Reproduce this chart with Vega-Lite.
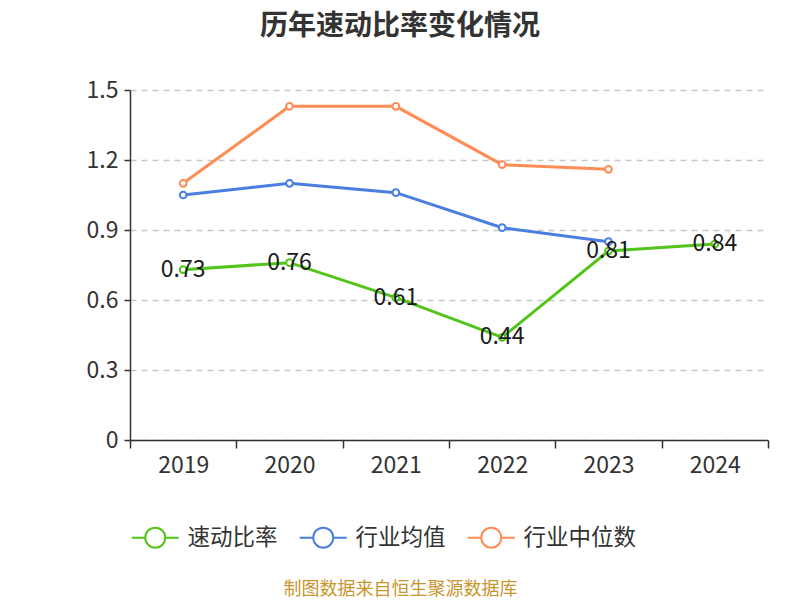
{
  "$schema": "https://vega.github.io/schema/vega-lite/v6.json",
  "width": 638,
  "height": 350,
  "autosize": {"type": "none"},
  "padding": {"left": 130, "top": 90, "right": 32, "bottom": 160},
  "background": "white",
  "config": {
    "font": "Noto Sans CJK SC",
    "view": {"stroke": null}
  },
  "title": {
    "text": "历年速动比率变化情况",
    "fontSize": 28,
    "fontWeight": "bold",
    "color": "#333333",
    "anchor": "middle",
    "frame": "group",
    "dx": -49,
    "offset": 38
  },
  "data": {
    "values": [
      {"year": 2019, "series": "速动比率", "value": 0.73},
      {"year": 2020, "series": "速动比率", "value": 0.76},
      {"year": 2021, "series": "速动比率", "value": 0.61},
      {"year": 2022, "series": "速动比率", "value": 0.44},
      {"year": 2023, "series": "速动比率", "value": 0.81},
      {"year": 2024, "series": "速动比率", "value": 0.84},
      {"year": 2019, "series": "行业均值", "value": 1.05},
      {"year": 2020, "series": "行业均值", "value": 1.10},
      {"year": 2021, "series": "行业均值", "value": 1.06},
      {"year": 2022, "series": "行业均值", "value": 0.91},
      {"year": 2023, "series": "行业均值", "value": 0.85},
      {"year": 2019, "series": "行业中位数", "value": 1.10},
      {"year": 2020, "series": "行业中位数", "value": 1.43},
      {"year": 2021, "series": "行业中位数", "value": 1.43},
      {"year": 2022, "series": "行业中位数", "value": 1.18},
      {"year": 2023, "series": "行业中位数", "value": 1.16}
    ]
  },
  "resolve": {"axis": {"x": "independent"}},
  "layer": [
    {
      "mark": {"type": "line", "strokeWidth": 3, "point": {"filled": false, "fill": "white", "size": 45, "strokeWidth": 2}},
      "encoding": {
        "x": {
          "field": "year",
          "type": "quantitative",
          "scale": {"domain": [2018.5, 2024.5], "nice": false, "zero": false},
          "axis": {
            "orient": "bottom",
            "values": [2018.5, 2019.5, 2020.5, 2021.5, 2022.5, 2023.5, 2024.5],
            "labels": false,
            "grid": false,
            "title": null,
            "tickSize": 8,
            "tickColor": "#333333",
            "tickWidth": 1.5,
            "domainColor": "#333333",
            "domainWidth": 1.5
          }
        },
        "y": {
          "field": "value",
          "type": "quantitative",
          "scale": {"domain": [0, 1.5], "nice": false},
          "axis": {
            "values": [0, 0.3, 0.6, 0.9, 1.2, 1.5],
            "format": ".1~f",
            "title": null,
            "labelFontSize": 23,
            "labelColor": "#333333",
            "labelPadding": 6,
            "tickSize": 6,
            "tickColor": "#333333",
            "tickWidth": 1.5,
            "domainColor": "#333333",
            "domainWidth": 1.5,
            "gridColor": "#c8c8c8",
            "gridDash": [6, 5],
            "gridWidth": 1.5
          }
        },
        "color": {
          "field": "series",
          "type": "nominal",
          "scale": {
            "domain": ["速动比率", "行业均值", "行业中位数"],
            "range": ["#52c41a", "#4a7ee0", "#ff8c55"]
          },
          "legend": {
            "title": null,
            "orient": "none",
            "direction": "horizontal",
            "legendX": 1,
            "legendY": 436,
            "symbolType": "M-2.35,0L-1,0M1,0L2.35,0M1,0A1,1 0 1,1 -1,0A1,1 0 1,1 1,0",
            "symbolSize": 400,
            "symbolFillColor": "white",
            "symbolStrokeWidth": 2,
            "symbolOffset": 13,
            "labelFontSize": 22.5,
            "labelColor": "#333333",
            "labelOffset": 21,
            "columnPadding": 17
          }
        }
      }
    },
    {
      "transform": [{"filter": "datum.series === '速动比率'"}],
      "mark": {"type": "text", "fontSize": 23, "color": "#1a1a1a", "baseline": "middle"},
      "encoding": {
        "x": {
          "field": "year",
          "type": "quantitative",
          "axis": {
            "orient": "bottom",
            "values": [2019, 2020, 2021, 2022, 2023, 2024],
            "format": "d",
            "ticks": false,
            "domain": false,
            "grid": false,
            "labelFontSize": 23,
            "labelColor": "#333333",
            "labelPadding": 14,
            "title": "制图数据来自恒生聚源数据库",
            "titleFontSize": 18,
            "titleFontWeight": "normal",
            "titleColor": "#c8962d",
            "titleX": 270,
            "titleY": 149,
            "titleAlign": "center",
            "titleBaseline": "middle"
          }
        },
        "y": {"field": "value", "type": "quantitative"},
        "text": {"field": "value", "type": "quantitative", "format": ".2f"}
      }
    }
  ]
}
